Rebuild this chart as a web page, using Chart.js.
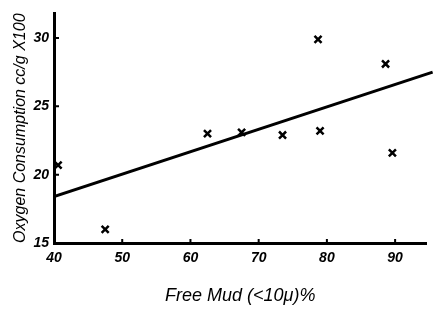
<!DOCTYPE html>
<html>
<head>
<meta charset="utf-8">
<script src="https://cdn.jsdelivr.net/npm/chart.js@4/dist/chart.umd.min.js"></script>
<style>
  html, body { margin: 0; padding: 0; background: #fff; }
  #wrap { width: 434px; height: 310px; }
</style>
</head>
<body>
<div id="wrap"><canvas id="mudChart" width="434" height="310"></canvas></div>
<script>
// free mud (<10µ) % vs oxygen consumption
const mudPct = [40.6, 47.5, 62.5, 67.5, 73.5, 79.0, 78.7, 88.6, 89.6];
const oxygen = [20.7, 16.0, 23.0, 23.1, 22.9, 23.2, 29.9, 28.1, 21.6];

// fitted line end points
const fitX = [40, 95.5];
const fitY = [18.4, 27.5];

const xTicks = [40, 50, 60, 70, 80, 90];
const yTicks = [15, 20, 25, 30];

const handFont = 'Liberation Sans';

// small inward tick marks, like the drawn axes
const innerTicks = {
  id: 'innerTicks',
  afterDraw(chart) {
    const { ctx, scales: { x, y } } = chart;
    ctx.save();
    ctx.strokeStyle = '#000';
    ctx.lineWidth = 2;
    ctx.beginPath();
    xTicks.slice(1).forEach(v => {
      const px = x.getPixelForValue(v);
      ctx.moveTo(px, y.bottom);
      ctx.lineTo(px, y.bottom - 4);
    });
    yTicks.slice(1).forEach(v => {
      const py = y.getPixelForValue(v);
      ctx.moveTo(x.left, py);
      ctx.lineTo(x.left + 5, py);
    });
    ctx.stroke();
    ctx.restore();
  }
};

new Chart(document.getElementById('mudChart'), {
  type: 'scatter',
  data: {
    datasets: [
      {
        label: 'Samples',
        data: mudPct.map((v, i) => ({ x: v, y: oxygen[i] })),
        pointStyle: 'crossRot',
        pointRadius: 5,
        borderColor: '#000',
        borderWidth: 2.5
      },
      {
        label: 'Fit',
        type: 'line',
        data: fitX.map((v, i) => ({ x: v, y: fitY[i] })),
        borderColor: '#000',
        borderWidth: 3,
        pointRadius: 0,
        clip: { left: 0, top: 0, right: 10, bottom: 0 }
      }
    ]
  },
  options: {
    responsive: false,
    animation: false,
    layout: { padding: { top: 13, right: 7, bottom: 0, left: 0 } },
    plugins: { legend: { display: false }, tooltip: { enabled: false } },
    scales: {
      x: {
        type: 'linear',
        min: 40,
        max: 94.6,
        afterBuildTicks: s => { s.ticks = xTicks.map(v => ({ value: v })); },
        afterFit: s => { s.height = 67; },
        grid: { display: false, drawTicks: false },
        border: { color: '#000', width: 3 },
        ticks: {
          color: '#000',
          padding: 7,
          font: { family: handFont, size: 14, style: 'italic', weight: 'bold' }
        },
        title: {
          display: true,
          text: 'Free Mud (<10μ)%',
          color: '#000',
          padding: { top: 0, bottom: 3 },
          font: { family: handFont, size: 18, style: 'italic' }
        }
      },
      y: {
        min: 15,
        max: 31.8,
        afterBuildTicks: s => { s.ticks = yTicks.map(v => ({ value: v })); },
        afterFit: s => { s.width = 54; },
        grid: { display: false, drawTicks: false },
        border: { color: '#000', width: 3 },
        ticks: {
          color: '#000',
          padding: 5,
          font: { family: handFont, size: 14, style: 'italic', weight: 'bold' }
        },
        title: {
          display: true,
          text: 'Oxygen Consumption cc/g X100',
          color: '#000',
          padding: { top: 11, bottom: 0 },
          font: { family: handFont, size: 16, style: 'italic' }
        }
      }
    }
  },
  plugins: [innerTicks]
});
</script>
</body>
</html>
